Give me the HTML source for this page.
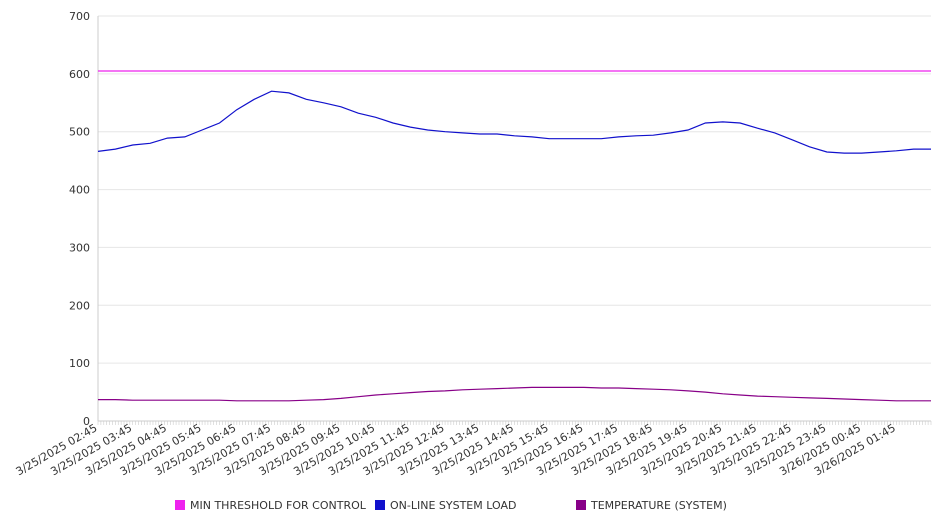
<!DOCTYPE html>
<html><head><meta charset="utf-8"><style>
html,body{margin:0;padding:0;background:#fff;width:946px;height:526px;overflow:hidden}
svg text{font-family:"DejaVu Sans","Liberation Sans",sans-serif;font-size:11px;fill:#333}
</style></head><body>
<svg id="chart" width="946" height="526" xmlns="http://www.w3.org/2000/svg">
<g id="grid"></g>
<g id="yaxis"></g>
<g id="xaxis"></g>
<g id="series"></g>
<g id="legend"></g>
</svg>
<script>
const yTicks=[0,100,200,300,400,500,600,700];
const xLabels=["3/25/2025 02:45","3/25/2025 03:45","3/25/2025 04:45","3/25/2025 05:45","3/25/2025 06:45","3/25/2025 07:45","3/25/2025 08:45","3/25/2025 09:45","3/25/2025 10:45","3/25/2025 11:45","3/25/2025 12:45","3/25/2025 13:45","3/25/2025 14:45","3/25/2025 15:45","3/25/2025 16:45","3/25/2025 17:45","3/25/2025 18:45","3/25/2025 19:45","3/25/2025 20:45","3/25/2025 21:45","3/25/2025 22:45","3/25/2025 23:45","3/26/2025 00:45","3/26/2025 01:45"];
const threshold=[605,605];
const load=[466,470,477,480,489,491,503,515,538,556,570,567,556,550,543,532,525,515,508,503,500,498,496,496,493,491,488,488,488,488,491,493,494,498,503,515,517,515,506,498,486,474,465,463,463,465,467,470,470];
const temp=[37,37,36,36,36,36,36,36,35,35,35,35,36,37,39,42,45,47,49,51,52,54,55,56,57,58,58,58,58,57,57,56,55,54,52,50,47,45,43,42,41,40,39,38,37,36,35,35,35];
const seriesNames=["MIN THRESHOLD FOR CONTROL","ON-LINE SYSTEM LOAD","TEMPERATURE (SYSTEM)"];
const seriesColors=["#ee22ee","#1111cc","#880088"];

const NS="http://www.w3.org/2000/svg";
const X0=98,X1=931,Y0=421,Y1=16,YMAX=700,HOURS=24;
const yScale=v=>Y0-(v/YMAX)*(Y0-Y1);
const xHour=h=>X0+h*(X1-X0)/HOURS;
function mk(tag,attrs,parent){const e=document.createElementNS(NS,tag);for(const k in attrs)e.setAttribute(k,attrs[k]);parent.appendChild(e);return e;}
const grid=document.getElementById('grid'),ya=document.getElementById('yaxis'),xa=document.getElementById('xaxis'),sr=document.getElementById('series'),lg=document.getElementById('legend');

yTicks.forEach(t=>{
  const y=yScale(t);
  if(t>0){const l=mk('line',{x1:X0,x2:X1,y1:y,y2:y,stroke:'#e6e6e6','stroke-width':1},grid);
  
  }
  const tx=mk('text',{x:X0-8,y:y+4,'text-anchor':'end'},ya);
  tx.textContent=t;
  
  
});
mk('line',{x1:X0,x2:X0,y1:Y1,y2:Y0,stroke:'#ccc'},ya);
mk('line',{x1:X0,x2:X1,y1:Y0,y2:Y0,stroke:'#ccc'},xa);
for(let m=0;m<=HOURS*12;m++){const x=X0+m*(X1-X0)/(HOURS*12);mk('line',{x1:x,x2:x,y1:Y0,y2:Y0+4,stroke:'#ccc','stroke-width':0.6},xa);}
xLabels.forEach((s,i)=>{
  const x=xHour(i);
  const tx=mk('text',{x:x,y:Y0+9,'text-anchor':'end',transform:`rotate(-30 ${x} ${Y0+9})`},xa);
  tx.textContent=s;
  
  
});
function drawLine(vals,color,name){
  const n=vals.length-1;
  const pts=vals.map((v,i)=>(X0+i*(X1-X0)/n).toFixed(1)+','+yScale(v).toFixed(1)).join(' ');
  const p=mk('polyline',{points:pts,fill:'none',stroke:color,'stroke-width':1.2},sr);
  
  
}
drawLine(threshold,seriesColors[0],'threshold-line');
drawLine(load,seriesColors[1],'system-load-line');
drawLine(temp,seriesColors[2],'temperature-line');
const lx=[175,375,576];
seriesNames.forEach((s,i)=>{
  const g=mk('g',{},lg);
  
  
  mk('rect',{x:lx[i],y:500,width:10,height:10,fill:seriesColors[i]},g);
  const t=mk('text',{x:lx[i]+15,y:509},g);
  t.textContent=s;
});
</script>
</body></html>
